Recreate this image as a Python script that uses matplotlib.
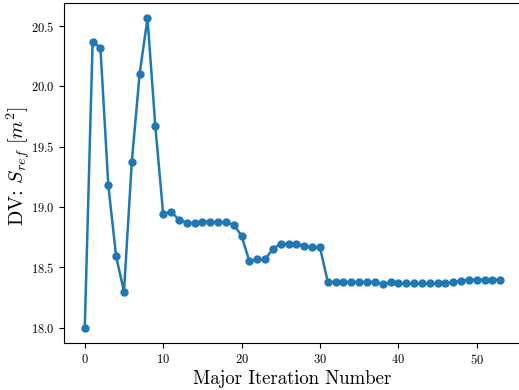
import matplotlib
matplotlib.use("Agg")
import matplotlib.pyplot as plt

plt.rcParams["font.family"] = "serif"
plt.rcParams["font.serif"] = ["cmr10"]
plt.rcParams["mathtext.fontset"] = "cm"
plt.rcParams["axes.formatter.use_mathtext"] = True

# Design variable history over optimizer major iterations
iterations = list(range(54))
s_ref = [
    18.000, 20.372, 20.318, 19.183, 18.592, 18.300, 19.376, 20.106, 20.563, 19.671,
    18.944, 18.961, 18.897, 18.872, 18.867, 18.881, 18.881, 18.875, 18.875, 18.856,
    18.762, 18.550, 18.567, 18.567, 18.655, 18.696, 18.696, 18.696, 18.680, 18.666,
    18.666, 18.380, 18.380, 18.380, 18.380, 18.380, 18.380, 18.380, 18.360, 18.377,
    18.368, 18.368, 18.368, 18.368, 18.368, 18.368, 18.368, 18.380, 18.390, 18.399,
    18.399, 18.399, 18.399, 18.399,
]

fig = plt.figure(figsize=(5.19, 3.90), dpi=100)
ax = fig.add_axes([0.1233, 0.1197, 0.8807, 0.8726])
ax.plot(iterations, s_ref, marker="o", color="#1f77b4", linewidth=1.8, markersize=5)

ax.set_xticks([0, 10, 20, 30, 40, 50])
ax.set_yticks([18.0, 18.5, 19.0, 19.5, 20.0, 20.5])
ax.tick_params(labelsize=9)
ax.set_xlabel("Major Iteration Number", fontsize=13.5, labelpad=2)
ax.set_ylabel(r"DV: $S_{ref}\ [m^2]$", fontsize=14.5)
ax.yaxis.set_label_coords(-0.068, 0.52)

fig.savefig("out.png", dpi=100)
